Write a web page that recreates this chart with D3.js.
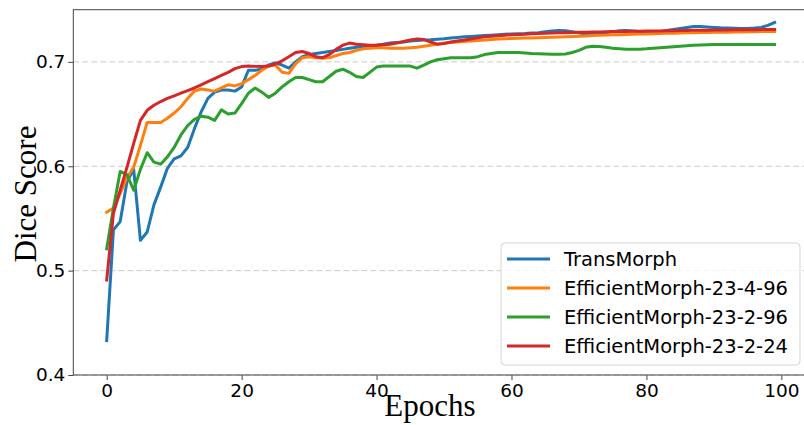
<!DOCTYPE html>
<html>
<head>
<meta charset="utf-8">
<script src="https://cdn.jsdelivr.net/npm/d3@7"></script>
<style>
  html, body { margin: 0; padding: 0; background: #fff; }
  svg { display: block; overflow: hidden; }
</style>
</head>
<body>
<svg id="chart" width="804" height="425"></svg>
<script>
const epochs = d3.range(0, 100);
const seriesNames = ["TransMorph", "EfficientMorph-23-4-96", "EfficientMorph-23-2-96", "EfficientMorph-23-2-24"];
const seriesColors = ["#1f77b4", "#ff7f0e", "#2ca02c", "#d62728"];
const xTicks = [0, 20, 40, 60, 80, 100];
const yTicks = [0.4, 0.5, 0.6, 0.7];

const transMorph = [
  0.433, 0.539, 0.547, 0.585, 0.597, 0.529, 0.537, 0.563, 0.580, 0.598,
  0.607, 0.610, 0.618, 0.636, 0.652, 0.665, 0.671, 0.673, 0.673, 0.672,
  0.676, 0.692, 0.692, 0.693, 0.697, 0.699, 0.697, 0.694, 0.700, 0.705,
  0.707, 0.708, 0.709, 0.710, 0.711, 0.712, 0.713, 0.714, 0.7145, 0.715,
  0.716, 0.717, 0.718, 0.7185, 0.719, 0.720, 0.7205, 0.721, 0.7213, 0.7218,
  0.7222, 0.7228, 0.7234, 0.724, 0.7244, 0.7248, 0.7252, 0.7256, 0.726, 0.7264,
  0.7268, 0.727, 0.7272, 0.7276, 0.728, 0.7288, 0.7295, 0.730, 0.7298, 0.729,
  0.7278, 0.7265, 0.7265, 0.727, 0.728, 0.729, 0.7298, 0.730, 0.7295, 0.729,
  0.7286, 0.7286, 0.729, 0.730, 0.731, 0.732, 0.733, 0.7338, 0.734, 0.7335,
  0.733, 0.7326, 0.7324, 0.7322, 0.732, 0.732, 0.7324, 0.733, 0.735, 0.7378
];
const em23496 = [
  0.556, 0.560, 0.574, 0.589, 0.599, 0.620, 0.642, 0.642, 0.642, 0.646,
  0.651, 0.657, 0.665, 0.672, 0.674, 0.673, 0.672, 0.675, 0.678, 0.677,
  0.679, 0.683, 0.687, 0.692, 0.696, 0.697, 0.690, 0.689, 0.698, 0.704,
  0.705, 0.704, 0.7035, 0.704, 0.706, 0.708, 0.709, 0.711, 0.7125, 0.713,
  0.7135, 0.7135, 0.713, 0.713, 0.713, 0.7135, 0.714, 0.715, 0.716, 0.717,
  0.718, 0.7185, 0.719, 0.7195, 0.720, 0.7205, 0.721, 0.7215, 0.722, 0.7222,
  0.7224, 0.7226, 0.7228, 0.723, 0.7232, 0.7234, 0.7236, 0.7238, 0.724, 0.7243,
  0.7246, 0.7249, 0.7252, 0.7255, 0.7257, 0.7259, 0.7261, 0.7263, 0.7265, 0.7267,
  0.7268, 0.727, 0.7272, 0.7274, 0.7275, 0.7276, 0.7278, 0.728, 0.7281, 0.7282,
  0.7283, 0.7284, 0.7285, 0.7286, 0.7287, 0.7288, 0.7289, 0.729, 0.729, 0.7291
];
const em23296 = [
  0.521, 0.560, 0.595, 0.592, 0.577, 0.597, 0.613, 0.604, 0.602, 0.609,
  0.618, 0.630, 0.639, 0.645, 0.648, 0.647, 0.644, 0.654, 0.650, 0.651,
  0.660, 0.670, 0.675, 0.671, 0.666, 0.670, 0.676, 0.681, 0.685, 0.685,
  0.683, 0.681, 0.681, 0.686, 0.691, 0.693, 0.690, 0.686, 0.685, 0.690,
  0.695, 0.696, 0.696, 0.696, 0.696, 0.696, 0.694, 0.697, 0.700, 0.702,
  0.703, 0.704, 0.704, 0.704, 0.704, 0.705, 0.707, 0.708, 0.709, 0.709,
  0.709, 0.709, 0.7085, 0.708, 0.7078, 0.7075, 0.7073, 0.7072, 0.7075, 0.709,
  0.711, 0.714, 0.715, 0.7148, 0.714, 0.713, 0.7125, 0.712, 0.712, 0.7122,
  0.7125, 0.713, 0.7135, 0.714, 0.7145, 0.715, 0.7155, 0.716, 0.7162, 0.7165,
  0.7166, 0.7166, 0.7166, 0.7166, 0.7166, 0.7166, 0.7167, 0.7167, 0.7167, 0.7167
];
const em23224 = [
  0.491, 0.555, 0.577, 0.599, 0.622, 0.644, 0.6536, 0.6584, 0.662, 0.665,
  0.6675, 0.670, 0.6725, 0.675, 0.678, 0.681, 0.684, 0.687, 0.690, 0.6935,
  0.6955, 0.696, 0.6957, 0.6955, 0.696, 0.698, 0.701, 0.705, 0.709, 0.710,
  0.708, 0.705, 0.704, 0.707, 0.712, 0.716, 0.718, 0.717, 0.7165, 0.716,
  0.716, 0.7165, 0.717, 0.718, 0.7195, 0.721, 0.722, 0.7215, 0.719, 0.717,
  0.7175, 0.719, 0.720, 0.721, 0.722, 0.723, 0.724, 0.7245, 0.725, 0.7255,
  0.726, 0.7262, 0.7265, 0.727, 0.7272, 0.7274, 0.7276, 0.7278, 0.728, 0.7281,
  0.7283, 0.7284, 0.7286, 0.7287, 0.7289, 0.729, 0.7291, 0.7292, 0.7293, 0.7294,
  0.7295, 0.7296, 0.7297, 0.7298, 0.7299, 0.730, 0.7301, 0.7302, 0.7303, 0.7304,
  0.7305, 0.7305, 0.7306, 0.7307, 0.7308, 0.7308, 0.7309, 0.731, 0.731, 0.7311
];
const seriesValues = [transMorph, em23496, em23296, em23224];

const svg = d3.select("#chart");
const plotL = 73.3, plotR = 808, plotT = 9.7, plotB = 375;

const x = d3.scaleLinear().domain([-4.95, 103.95]).range([plotL, plotR]);
const y = d3.scaleLinear().domain([0.4, 0.75]).range([plotB, plotT]);

// grid
svg.append("g").selectAll("line").data(yTicks).join("line")
  .attr("x1", plotL).attr("x2", plotR)
  .attr("y1", d => y(d)).attr("y2", d => y(d))
  .attr("stroke", "#cccccc").attr("stroke-width", 1)
  .attr("stroke-dasharray", "6,3");

// lines
const line = d3.line().x((d, i) => x(epochs[i])).y(d => y(d));
svg.append("g").selectAll("path").data(seriesValues).join("path")
  .attr("d", d => line(d))
  .attr("fill", "none")
  .attr("stroke", (d, i) => seriesColors[i])
  .attr("stroke-width", 3)
  .attr("stroke-linejoin", "round")
  .attr("stroke-linecap", "square");

// axes
const xAxis = d3.axisBottom(x).tickValues(xTicks).tickSize(5).tickPadding(4).tickFormat(d3.format("d"));
const yAxis = d3.axisLeft(y).tickValues(yTicks).tickSize(5).tickPadding(3).tickFormat(d3.format(".1f"));
const gx = svg.append("g").attr("transform", `translate(0,${plotB})`).call(xAxis);
const gy = svg.append("g").attr("transform", `translate(${plotL},0)`).call(yAxis);
[gx, gy].forEach(g => {
  g.selectAll("text").attr("font-family", "DejaVu Sans").attr("font-size", 18.5).attr("fill", "#000");
  g.selectAll("line").attr("stroke", "#444");
  g.select(".domain").remove();
});
// spines
svg.append("rect").attr("x", plotL).attr("y", plotT)
  .attr("width", plotR - plotL).attr("height", plotB - plotT)
  .attr("fill", "none").attr("stroke", "#444").attr("stroke-width", 1);

// axis labels
svg.append("text").attr("x", 430).attr("y", 416)
  .attr("text-anchor", "middle")
  .attr("font-family", "Liberation Serif").attr("font-size", 31)
  .text("Epochs");
svg.append("text").attr("transform", "translate(36,194) rotate(-90)")
  .attr("text-anchor", "middle")
  .attr("font-family", "Liberation Serif").attr("font-size", 31)
  .text("Dice Score");

// legend
const lg = svg.append("g");
lg.append("rect").attr("x", 501).attr("y", 243).attr("width", 299).attr("height", 122)
  .attr("rx", 4).attr("fill", "#fff").attr("fill-opacity", 0.8)
  .attr("stroke", "#d5d5d5").attr("stroke-width", 1);
const rows = lg.selectAll("g.row").data(seriesNames).join("g")
  .attr("transform", (d, i) => `translate(0,${259 + i * 29})`);
rows.append("line").attr("x1", 507).attr("x2", 550).attr("y1", 0).attr("y2", 0)
  .attr("stroke", (d, i) => seriesColors[i]).attr("stroke-width", 3);
rows.append("text").attr("x", 564).attr("y", 0).attr("dy", "0.35em")
  .attr("font-family", "DejaVu Sans").attr("font-size", 19.5)
  .text(d => d);
</script>
</body>
</html>
